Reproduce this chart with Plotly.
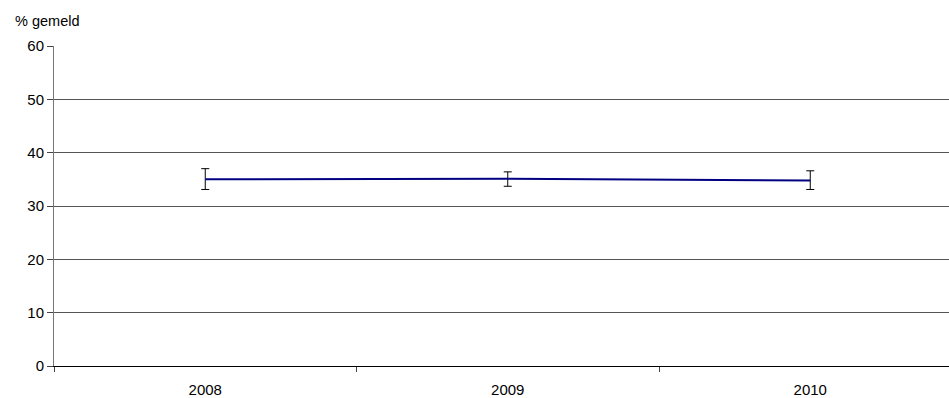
import plotly.graph_objects as go

years = ["2008", "2009", "2010"]
values = [35.0, 35.1, 34.8]
err_plus = [2.0, 1.3, 1.8]
err_minus = [1.9, 1.4, 1.7]
y_ticks = [0, 10, 20, 30, 40, 50, 60]

xpos = list(range(len(years)))

W, H = 949, 398
ML, MR, MT, MB = 54, 0, 46, 32
PW, PH = W - ML - MR, H - MT - MB

fig = go.Figure()
fig.add_trace(go.Scatter(
    x=xpos, y=values, mode="lines",
    line=dict(color="#000080", width=2),
    error_y=dict(type="data", symmetric=False, array=err_plus, arrayminus=err_minus,
                 color="black", thickness=1, width=4),
    showlegend=False, hoverinfo="skip",
))

fig.update_layout(
    width=W, height=H,
    margin=dict(l=ML, r=MR, t=MT, b=MB, pad=0),
    paper_bgcolor="white", plot_bgcolor="white",
    font=dict(family="Liberation Sans, Arial, sans-serif", size=15, color="black"),
    annotations=[dict(text="% gemeld", x=(13 - ML) / PW, y=1 + (MT - 21) / PH,
                      xref="paper", yref="paper",
                      showarrow=False, xanchor="left", yanchor="middle",
                      font=dict(size=14.5))],
)

# category spacing of the original chart makes the plot area run past the right edge
cat_w = 302.5
fig.update_xaxes(
    range=[-0.5, -0.5 + PW / cat_w],
    tickvals=xpos, ticktext=years, ticks="",
    showgrid=False, zeroline=False, automargin=False,
    showline=True, linecolor="black", linewidth=1,
    minor=dict(tickvals=[-0.5, 0.5, 1.5], ticks="outside", ticklen=5,
               tickcolor="#444", showgrid=False),
    ticklabelstandoff=10,
)
fig.update_yaxes(
    range=[0, 60], tickvals=y_ticks, automargin=False,
    showgrid=True, gridcolor="#555", gridwidth=1,
    zeroline=False,
    showline=True, linecolor="#777", linewidth=1,
    ticks="outside", ticklen=6, tickcolor="#444",
)

fig.write_html(
    "out.html",
    config={"displayModeBar": False},
    post_script="document.body.style.margin='0';document.body.style.overflow='hidden';",
)
